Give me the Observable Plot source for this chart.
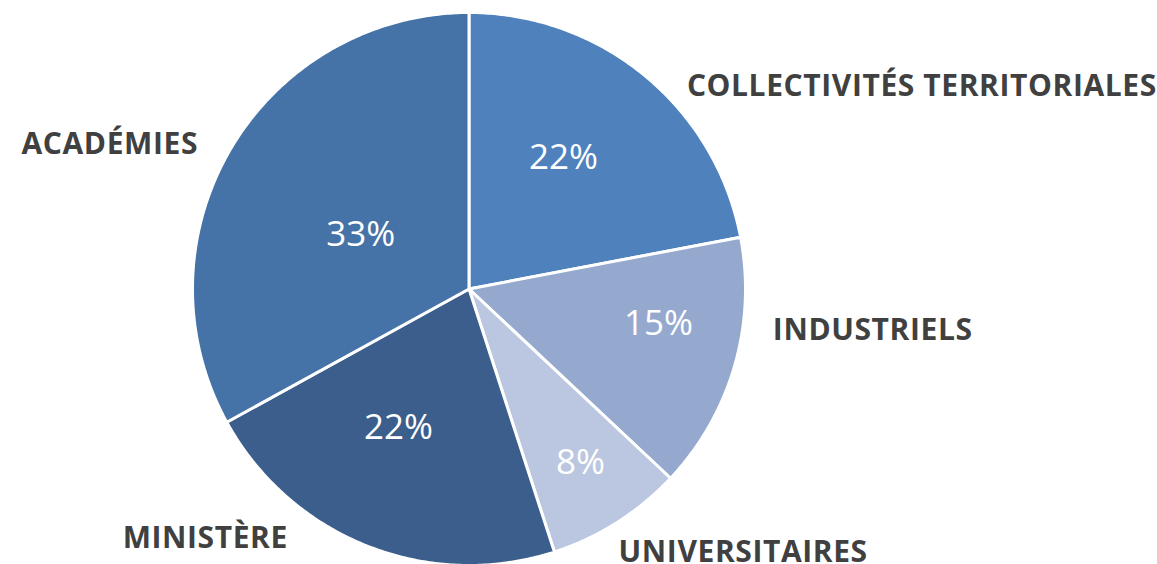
<!DOCTYPE html>
<html><head><meta charset="utf-8">
<script src="https://cdn.jsdelivr.net/npm/d3@7"></script>
<script src="https://cdn.jsdelivr.net/npm/@observablehq/plot@0.6"></script>
<style>html,body{margin:0;padding:0;background:#fff;} svg{display:block;} .names text{letter-spacing:0.6px;}</style>
</head><body><div id="chart"></div>
<script>
// Data
const categories = ["COLLECTIVITÉS TERRITORIALES", "INDUSTRIELS", "UNIVERSITAIRES", "MINISTÈRE", "ACADÉMIES"];
const shares = [22, 15, 8, 22, 33];
const sliceColors = ["#4f81bd", "#95a9cf", "#bbc7e0", "#3b5e8c", "#4573a7"];

// Layout (pie units: radius = 1, origin at pie centre)
const W = 1157, H = 564;
const cx = 468.5, cy = 288.5, R = 276.5;
const pctPos = [[0.342, 0.476], [0.685, -0.125], [0.403, -0.627], [-0.255, -0.501], [-0.392, 0.197]];
const namePos = [[0.788, 0.734, "start"], [1.099, -0.148, "start"], [0.541, -0.951, "start"], [-0.655, -0.901, "end"], [-0.980, 0.524, "end"]];

const total = d3.sum(shares);
const slices = [];
const pctLabels = [];
const nameLabels = [];
let acc = 0;
categories.forEach((name, i) => {
  const a0 = acc / total * 2 * Math.PI;
  acc += shares[i];
  const a1 = acc / total * 2 * Math.PI;
  slices.push({name, x: 0, y: 0});
  const n = Math.max(2, Math.ceil((a1 - a0) / 0.01));
  for (let k = 0; k <= n; k++) {
    const a = a0 + (a1 - a0) * k / n;
    slices.push({name, x: Math.sin(a), y: Math.cos(a)});
  }
  slices.push({name, x: 0, y: 0});
  pctLabels.push({text: `${shares[i]}%`, x: pctPos[i][0], y: pctPos[i][1]});
  nameLabels.push({text: name, x: namePos[i][0], y: namePos[i][1], anchor: namePos[i][2]});
});

const chart = Plot.plot({
  width: W, height: H,
  margin: 0,
  x: {domain: [-cx / R, (W - cx) / R], range: [0, W], axis: null},
  y: {domain: [-(H - cy) / R, cy / R], range: [H, 0], axis: null},
  color: {domain: categories, range: sliceColors},
  marks: [
    Plot.line(slices, {x: "x", y: "y", z: "name", fill: "name", stroke: "white", strokeWidth: 3, strokeLinejoin: "round", curve: "linear"}),
    Plot.text(pctLabels, {x: "x", y: "y", text: "text", fill: "white", fontSize: 35, fontFamily: "Open Sans"}),
    Plot.text(nameLabels.filter(d => d.anchor === "start"), {x: "x", y: "y", text: "text", fill: "#404040", fontSize: 30, fontWeight: "bold", fontFamily: "Open Sans", textAnchor: "start", className: "names"}),
    Plot.text(nameLabels.filter(d => d.anchor === "end"), {x: "x", y: "y", text: "text", fill: "#404040", fontSize: 30, fontWeight: "bold", fontFamily: "Open Sans", textAnchor: "end", className: "names"})
  ]
});
document.getElementById("chart").appendChild(chart);
</script>
</body></html>
